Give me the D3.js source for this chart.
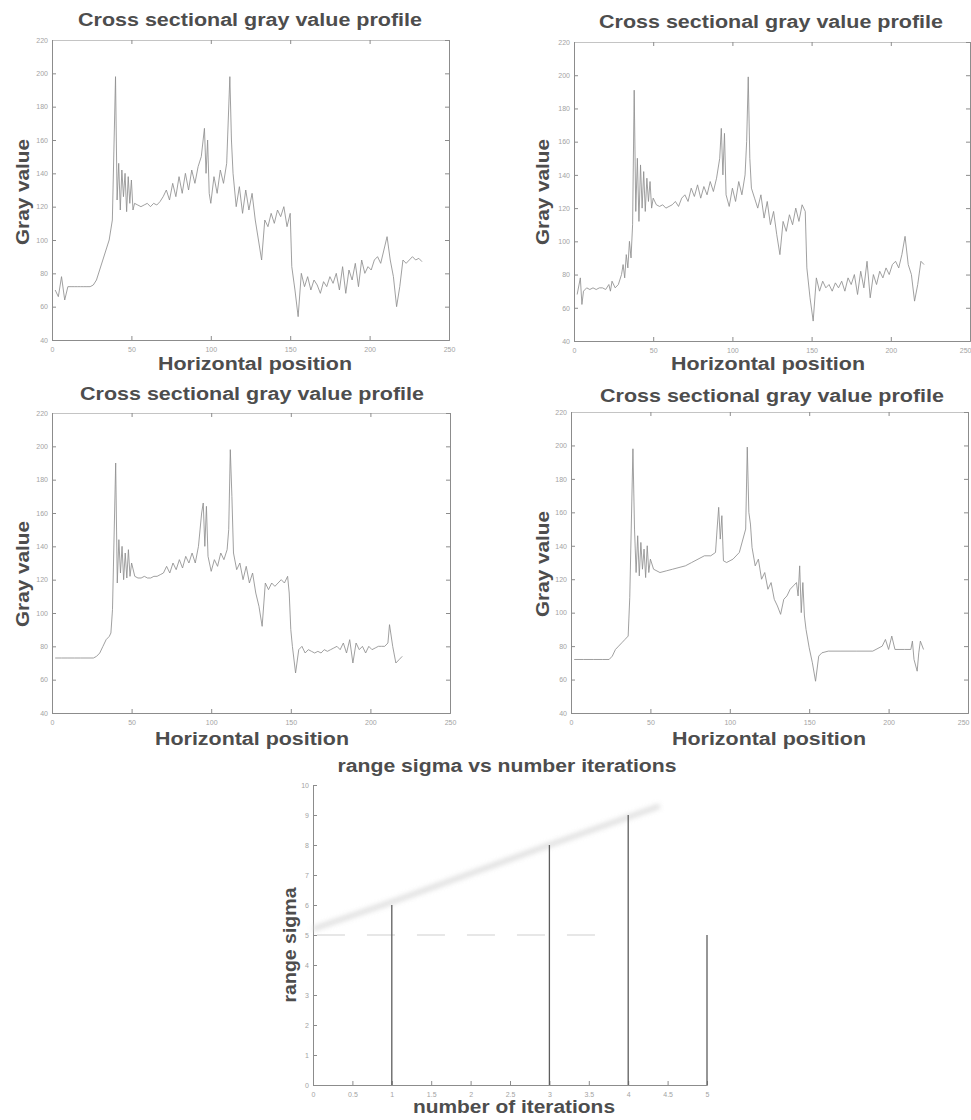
<!DOCTYPE html>
<html>
<head>
<meta charset="utf-8">
<script src="https://cdn.jsdelivr.net/npm/d3@7"></script>
<style>
  body { margin: 0; background: #fff; }
  svg { display: block; }
  text { font-family: "Liberation Sans", Arial, Helvetica, sans-serif; }
</style>
</head>
<body>
<svg id="fig" width="971" height="1120"></svg>
<script>
// ---- tick values -------------------------------------------------------
const positionTicks = [0, 50, 100, 150, 200, 250];
const grayTicks = [40, 60, 80, 100, 120, 140, 160, 180, 200, 220];
const iterationTicks = [0, 0.5, 1, 1.5, 2, 2.5, 3, 3.5, 4, 4.5, 5];
const sigmaTicks = [0, 1, 2, 3, 4, 5, 6, 7, 8, 9, 10];

// ---- gray value profiles: [horizontal position, gray value] -----------
const profileOriginal = [
  [2,70],[4,66],[6,78],[8,64],[10,72],[12,72],[14,72],[16,72],[18,72],[20,72],[22,72],[24,72],
  [26,73],[28,76],[30,82],[32,88],[34,94],[36,100],[38,112],[40,198],[41,124],[42,146],[43,118],
  [44,142],[45,126],[46,140],[47,117],[48,138],[49,122],[50,136],[51,118],[52,122],[54,121],
  [56,120],[58,121],[60,122],[62,120],[64,122],[66,121],[68,123],[70,126],[72,130],[74,124],
  [76,134],[78,126],[80,138],[82,128],[84,140],[86,130],[88,142],[90,134],[92,144],[94,150],
  [96,167],[97,140],[98,160],[99,128],[100,122],[102,138],[104,128],[106,142],[108,134],[110,146],
  [112,198],[113,160],[114,140],[116,120],[118,132],[120,116],[122,130],[124,118],[126,128],
  [128,112],[130,100],[132,88],[134,112],[136,108],[138,116],[140,110],[142,118],[144,114],
  [146,120],[148,108],[150,116],[151,84],[153,70],[155,54],[157,80],[159,72],[161,78],[163,70],
  [165,76],[167,73],[169,68],[171,75],[173,72],[175,78],[177,74],[179,80],[181,70],[183,84],
  [185,68],[187,82],[189,76],[191,86],[193,72],[195,88],[197,80],[199,84],[201,82],[203,88],
  [205,90],[207,86],[209,94],[211,102],[213,88],[215,78],[217,60],[219,72],[221,88],[223,86],
  [225,88],[227,90],[229,88],[231,89],[233,87]
];

const profileNoisy = [
  [2,68],[4,78],[5,62],[6,70],[8,72],[10,71],[12,72],[14,71],[16,72],[18,72],[20,71],[22,74],
  [23,70],[24,76],[26,72],[28,74],[30,80],[31,86],[32,78],[33,92],[34,84],[35,100],[36,90],
  [37,110],[38,191],[39,118],[40,150],[41,112],[42,146],[43,120],[44,142],[45,118],[46,138],
  [47,124],[48,136],[49,120],[50,126],[52,122],[54,121],[56,122],[58,120],[60,121],[62,122],
  [64,124],[66,121],[68,126],[70,128],[72,124],[74,132],[76,127],[78,134],[80,126],[82,133],
  [84,128],[86,136],[88,130],[90,138],[92,150],[93,168],[94,140],[95,165],[96,128],[98,121],
  [100,132],[102,124],[104,136],[106,128],[108,140],[109,160],[110,199],[111,150],[112,132],
  [114,126],[116,120],[118,128],[120,114],[122,124],[124,110],[126,118],[128,104],[130,92],
  [132,112],[134,106],[136,116],[138,110],[140,120],[142,112],[144,122],[146,118],[147,84],
  [149,66],[151,52],[153,78],[155,70],[157,76],[159,72],[161,74],[163,70],[165,75],[167,72],
  [169,76],[171,70],[173,78],[175,74],[177,80],[179,68],[181,82],[183,72],[185,88],[187,66],
  [189,80],[191,74],[193,82],[195,78],[197,84],[199,80],[201,86],[203,88],[205,84],[207,92],
  [209,103],[211,86],[213,80],[215,64],[217,74],[219,88],[221,86]
];

const profileFiltered = [
  [2,73],[6,73],[10,73],[14,73],[18,73],[22,73],[26,73],[28,74],[30,76],[32,80],[34,84],[36,86],
  [37,88],[38,102],[40,190],[41,118],[42,144],[43,124],[44,140],[45,120],[46,136],[47,121],
  [48,138],[49,122],[50,130],[52,122],[54,121],[56,121],[58,122],[60,121],[62,121],[64,122],
  [66,122],[68,123],[70,124],[72,128],[74,124],[76,130],[78,126],[80,132],[82,127],[84,134],
  [86,130],[88,136],[90,130],[92,140],[94,160],[95,166],[96,140],[97,164],[98,134],[100,125],
  [102,132],[104,128],[106,136],[108,132],[110,138],[111,150],[112,198],[113,170],[114,136],
  [116,126],[118,130],[120,120],[122,128],[124,118],[126,124],[128,112],[130,104],[132,92],
  [134,118],[136,114],[138,118],[140,116],[142,118],[144,120],[146,118],[148,122],[149,112],
  [150,90],[151,80],[153,64],[155,78],[157,80],[159,76],[161,78],[163,77],[165,76],[167,77],
  [169,76],[171,78],[173,77],[175,78],[177,79],[179,80],[181,78],[183,82],[185,76],[187,84],
  [189,70],[191,82],[193,78],[195,80],[197,76],[199,80],[201,78],[203,79],[205,80],[207,80],
  [209,80],[211,82],[212,93],[214,80],[216,70],[218,72],[220,74]
];

const profileSmoothed = [
  [2,72],[8,72],[14,72],[20,72],[24,72],[26,74],[28,78],[30,80],[32,82],[34,84],[36,86],[37,109],
  [39,198],[40,150],[41,124],[42,146],[43,122],[44,142],[45,126],[46,138],[47,121],[48,140],
  [49,124],[50,132],[52,126],[56,124],[60,125],[64,126],[68,127],[72,128],[76,130],[80,132],
  [84,134],[88,134],[91,136],[92,150],[93,163],[94,144],[95,158],[96,131],[98,130],[102,132],
  [106,136],[110,150],[111,199],[112,160],[113,153],[114,139],[116,128],[118,132],[120,120],
  [122,124],[124,114],[126,118],[128,108],[130,104],[132,99],[134,108],[136,110],[138,114],
  [140,116],[142,118],[143,110],[144,128],[145,100],[146,118],[147,98],[148,90],[150,79],
  [152,70],[154,59],[156,74],[158,76],[162,77],[170,77],[180,77],[190,77],[196,80],[198,84],
  [200,78],[202,86],[204,78],[210,78],[214,78],[215,83],[216,72],[218,65],[219,76],[220,83],
  [222,78]
];

// ---- range sigma per number of iterations ------------------------------
const iterations = [1, 3, 4, 5];
const rangeSigma = [6, 8, 9, 5];
// faint trend drawn behind the stems
const trendIterations = [0, 1, 2, 3, 4.4];
const trendSigma = [5.2, 6.1, 7.05, 8, 9.3];
const referenceSigma = 5;

const svg = d3.select("#fig");
const defs = svg.append("defs");
defs.append("filter").attr("id", "soft")
  .attr("x", "-10%").attr("y", "-30%").attr("width", "120%").attr("height", "160%")
  .append("feGaussianBlur").attr("stdDeviation", 2.6);

const TEXT = "#4d4d4d";
const TICKTXT = "#a3a3a3";
const AXIS = "#8c8c8c";
const PAGE_W = 971;

function addText(g, str, x, y, opts) {
  const t = g.append("text")
    .attr("x", x).attr("y", y)
    .attr("text-anchor", "middle")
    .attr("font-size", opts.size)
    .attr("font-weight", "bold")
    .attr("fill", TEXT)
    .text(str);
  if (opts.length) t.attr("textLength", opts.length).attr("lengthAdjust", "spacingAndGlyphs");
  if (opts.rotate) t.attr("transform", `rotate(-90 ${x} ${y})`);
  return t;
}

function drawFrame(g, x, y, xTicks, yTicks, box, xFmt, yFmt) {
  const [x0, x1] = x.range();
  const [y0, y1] = y.range();
  // bottom and left axes with inward ticks
  const bottom = g.append("g").attr("transform", `translate(0,${y0})`)
    .call(d3.axisBottom(x).tickValues(xTicks).tickSize(-4).tickPadding(7).tickFormat(xFmt));
  const left = g.append("g").attr("transform", `translate(${x0},0)`)
    .call(d3.axisLeft(y).tickValues(yTicks).tickSize(-4).tickPadding(4).tickFormat(yFmt));
  [bottom, left].forEach(a => {
    a.select(".domain").attr("stroke", AXIS).attr("stroke-width", 1);
    a.selectAll(".tick line").attr("stroke", AXIS);
    a.selectAll(".tick text").attr("fill", TICKTXT).attr("font-size", 7)
      .attr("font-family", "\"Liberation Sans\", Arial, sans-serif");
  });
  // keep a label that would run past the page edge inside it
  bottom.selectAll(".tick text")
    .filter(d => x(d) > PAGE_W - 12)
    .attr("text-anchor", "end").attr("dx", 1);
  if (box) {
    const top = g.append("g").attr("transform", `translate(0,${y1})`)
      .call(d3.axisTop(x).tickValues(xTicks).tickSize(-4).tickFormat(""));
    const right = g.append("g").attr("transform", `translate(${x1},0)`)
      .call(d3.axisRight(y).tickValues(yTicks).tickSize(-4).tickFormat(""));
    [top, right].forEach(a => {
      a.select(".domain").attr("stroke", AXIS).attr("stroke-width", 1);
      a.selectAll(".tick line").attr("stroke", AXIS);
    });
    top.select(".domain").attr("stroke", "#c4c4c4");
  }
}

function drawProfile(cfg) {
  const g = svg.append("g");
  const x = d3.scaleLinear().domain([0, 250]).range([cfg.left, cfg.right]);
  const y = d3.scaleLinear().domain([40, 220]).range([cfg.bottom, cfg.top]);
  drawFrame(g, x, y, positionTicks, grayTicks, true, d3.format("d"), d3.format("d"));

  g.append("path")
    .datum(cfg.data)
    .attr("fill", "none")
    .attr("stroke", "#8f8f8f")
    .attr("stroke-width", 0.85)
    .attr("stroke-linejoin", "round")
    .attr("d", d3.line().x(d => x(d[0])).y(d => y(d[1])));

  addText(g, "Cross sectional gray value profile", cfg.title[0], cfg.title[1], { size: 18, length: 344 });
  addText(g, "Horizontal position", cfg.xlab[0], cfg.xlab[1], { size: 18, length: 194 });
  addText(g, "Gray value", cfg.ylab[0], cfg.ylab[1], { size: 18, length: 106, rotate: true });
}

drawProfile({ data: profileOriginal, left: 52, right: 449, top: 40, bottom: 340,
  title: [250, 26], xlab: [255, 370], ylab: [29, 192] });
drawProfile({ data: profileNoisy, left: 574, right: 970, top: 42, bottom: 341,
  title: [771, 28], xlab: [768, 370], ylab: [549, 192] });
drawProfile({ data: profileFiltered, left: 52, right: 450, top: 413, bottom: 713,
  title: [252, 400], xlab: [252, 745], ylab: [29, 574] });
drawProfile({ data: profileSmoothed, left: 571, right: 968, top: 412, bottom: 713,
  title: [772, 402], xlab: [769, 745], ylab: [549, 564] });

// ---- range sigma vs number of iterations -------------------------------
(function () {
  const g = svg.append("g");
  const x = d3.scaleLinear().domain([0, 5]).range([313, 707]);
  const y = d3.scaleLinear().domain([0, 10]).range([1085, 785]);
  drawFrame(g, x, y, iterationTicks, sigmaTicks, false, d3.format(""), d3.format("d"));

  g.append("path")
    .datum(d3.zip(trendIterations, trendSigma))
    .attr("fill", "none")
    .attr("stroke", "#d2d2d2")
    .attr("stroke-width", 5)
    .attr("opacity", 0.75)
    .attr("filter", "url(#soft)")
    .attr("d", d3.line().x(d => x(d[0])).y(d => y(d[1])));

  g.append("line")
    .attr("x1", x(0.05)).attr("x2", x(3.6))
    .attr("y1", y(referenceSigma)).attr("y2", y(referenceSigma))
    .attr("stroke", "#cfcfcf").attr("stroke-width", 1.2)
    .attr("stroke-dasharray", "28,22");

  g.selectAll("line.stem")
    .data(d3.zip(iterations, rangeSigma))
    .join("line")
    .attr("class", "stem")
    .attr("x1", d => x(d[0])).attr("x2", d => x(d[0]))
    .attr("y1", y(0)).attr("y2", d => y(d[1]))
    .attr("stroke", "#5e5e5e")
    .attr("stroke-width", 1.3);

  addText(g, "range sigma vs number iterations", 507, 772, { size: 18, length: 339 });
  addText(g, "number of iterations", 514, 1113, { size: 18, length: 202 });
  addText(g, "range sigma", 296, 945, { size: 18, length: 115, rotate: true });
})();
</script>
</body>
</html>
